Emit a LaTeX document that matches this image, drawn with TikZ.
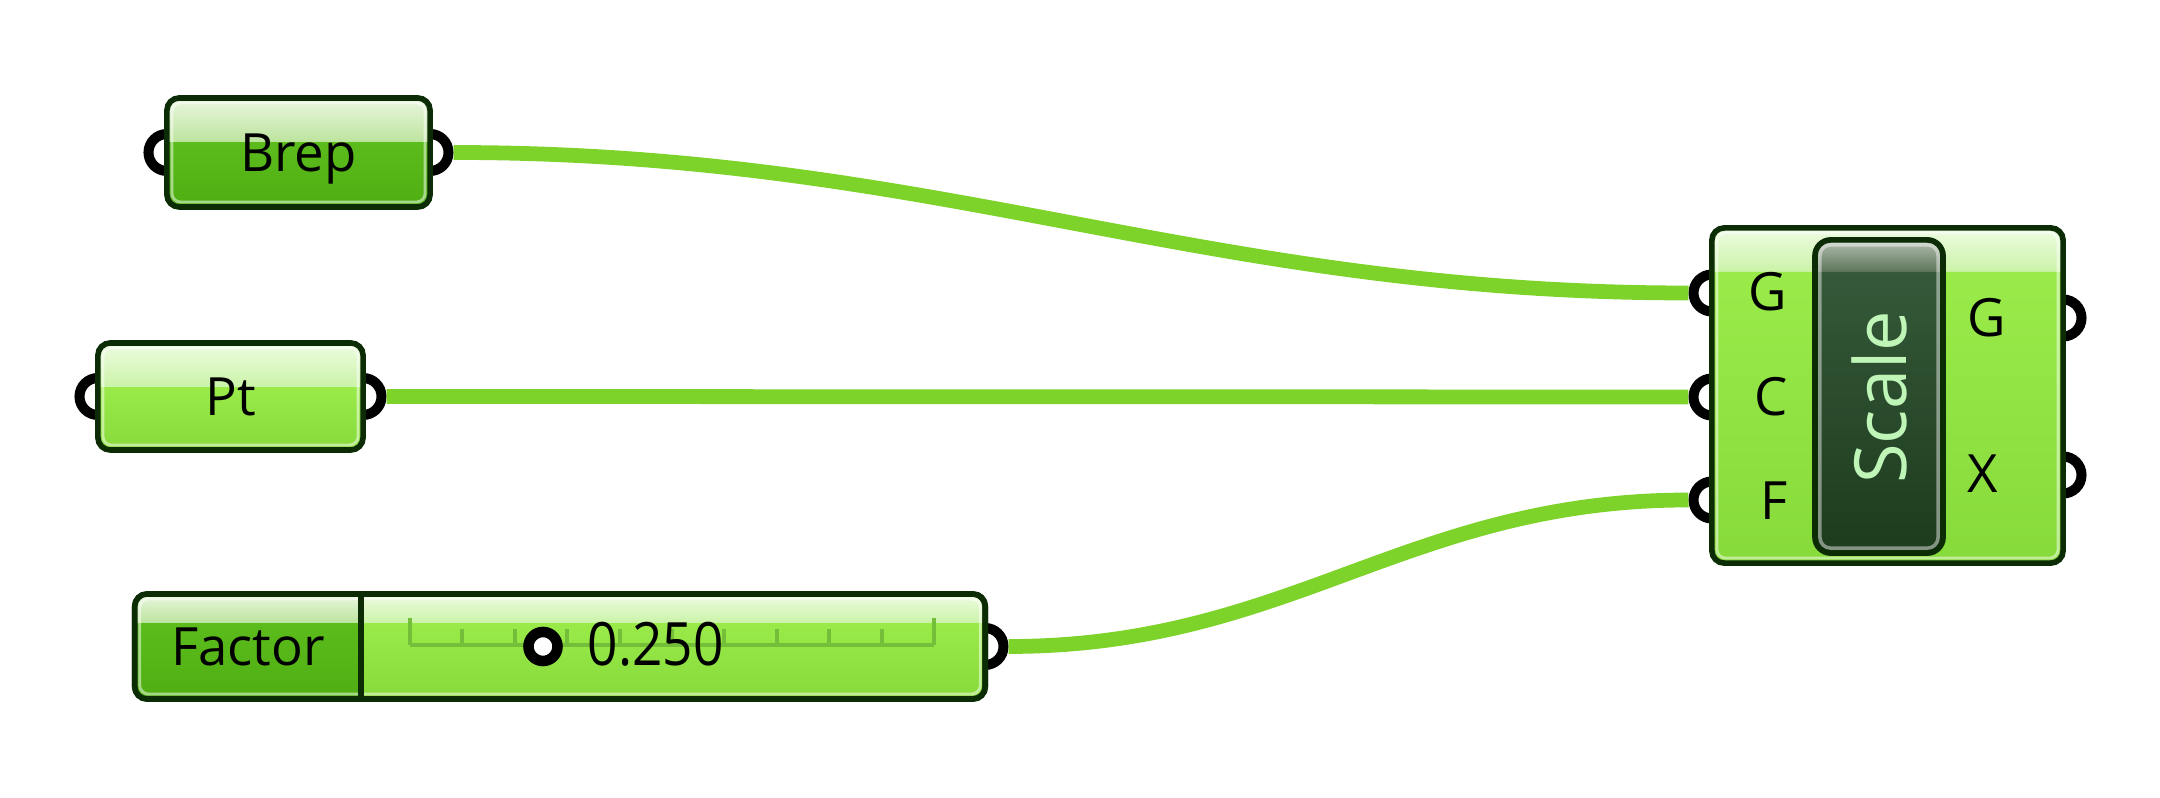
\documentclass[tikz,border=0pt]{standalone}
\usepackage{fontspec}
\setmainfont{Open Sans}

\definecolor{outl}{HTML}{0C2C06}
\definecolor{wirec}{HTML}{7DD32A}
\definecolor{tickc}{HTML}{74BE3A}
\definecolor{scaletxt}{HTML}{C0F5B8}
% dark green (Brep, Factor)
\definecolor{dkB}{HTML}{4FAE12}
\definecolor{dkT}{HTML}{5CBC1C}
\definecolor{lbB}{HTML}{BCE49E}
\definecolor{lbT}{HTML}{EBF7E0}
% light green (Pt, slider, Scale)
\definecolor{ltB}{HTML}{86DA3A}
\definecolor{ltT}{HTML}{9AEB4A}
\definecolor{lhB}{HTML}{CBF3A8}
\definecolor{lhT}{HTML}{EEFCE2}
% inner panel
\definecolor{pnB}{HTML}{1D3B1D}
\definecolor{pnT}{HTML}{35593A}
\definecolor{phB}{HTML}{5F765C}
\definecolor{phT}{HTML}{B3BFB0}

\pgfdeclareverticalshading{brepshade}{100bp}{color(0bp)=(dkB); color(25bp)=(dkB); color(55bp)=(dkT); color(55bp)=(lbB); color(75bp)=(lbT); color(100bp)=(lbT)}
\pgfdeclareverticalshading{factorshade}{100bp}{color(0bp)=(dkB); color(25bp)=(dkB); color(61.5bp)=(dkT); color(61.5bp)=(lbB); color(75bp)=(lbT); color(100bp)=(lbT)}
\pgfdeclareverticalshading{ptshade}{100bp}{color(0bp)=(ltB); color(25bp)=(ltB); color(54.5bp)=(ltT); color(54.5bp)=(lhB); color(75bp)=(lhT); color(100bp)=(lhT)}
\pgfdeclareverticalshading{slidershade}{100bp}{color(0bp)=(ltB); color(25bp)=(ltB); color(61.5bp)=(ltT); color(61.5bp)=(lhB); color(75bp)=(lhT); color(100bp)=(lhT)}
\pgfdeclareverticalshading{scaleshade}{100bp}{color(0bp)=(ltB); color(25bp)=(ltB); color(68.5bp)=(ltT); color(68.5bp)=(lhB); color(75bp)=(lhT); color(100bp)=(lhT)}
\pgfdeclareverticalshading{panelshade}{100bp}{color(0bp)=(pnB); color(25bp)=(pnB); color(70bp)=(pnT); color(70bp)=(phB); color(75bp)=(phT); color(100bp)=(phT)}

\begin{document}
\begin{tikzpicture}[x=0.01cm,y=-0.01cm,
  txt/.style={font=\fontsize{15}{18}\selectfont,text=black,inner sep=0pt,text height=0.38cm,text depth=0pt},
  comp/.style={txt,rectangle,draw=outl,line width=1.6pt,rounded corners=3.5pt,outer sep=0pt},
  grip/.style={circle,draw=black,fill=white,line width=2.85pt,minimum size=0.37cm,inner sep=0pt},
  wire/.style={draw=wirec,line width=4.2pt},
  hilite/.style={draw=white,draw opacity=0.5,line width=0.8pt,rounded corners=2.5pt},
  tick/.style={draw=tickc,line width=1.1pt}]
\useasboundingbox (0,0) rectangle (2160,798);

% grips
\node[grip] (brepin) at (167,152.5) {};
\node[grip] (brepout) at (430,152.5) {};
\node[grip] (ptin) at (98,396.5) {};
\node[grip] (ptout) at (363,396.5) {};
\node[grip] (factorout) at (985,646.5) {};
\node[grip] (gin) at (1712,293) {};
\node[grip] (cin) at (1712,397) {};
\node[grip] (fin) at (1712,500) {};
\node[grip] (gout) at (2063,318) {};
\node[grip] (xout) at (2063,475) {};

% wires
\draw[wire] (brepout) .. controls +(512,0) and +(-512,0) .. (gin);
\draw[wire] (ptout) -- (cin);
\draw[wire] (factorout) .. controls +(305,0) and +(-305,0) .. (fin);

% params
\node[comp,shading=brepshade,minimum width=2.63cm,minimum height=1.09cm] (brep) at (298.5,152.5) {Brep};
\node[comp,shading=ptshade,minimum width=2.65cm,minimum height=1.07cm] (pt) at (230.5,396.5) {Pt};

% slider
\node[comp,shading=slidershade,minimum width=8.5cm,minimum height=1.05cm] (factor) at (560,646.5) {};
\begin{scope}
\clip (120,580) rectangle (361,715);
\path[shading=factorshade,rounded corners=3.5pt] (factor.north west) rectangle (factor.south east);
\end{scope}
\foreach \b in {brep,pt,factor}
  \draw[hilite] ([shift={(5,5)}]\b.north west) rectangle ([shift={(-5,-5)}]\b.south east);
\draw[draw=outl,line width=1.6pt,rounded corners=3.5pt] (factor.north west) rectangle (factor.south east);
\draw[draw=outl,line width=1.6pt] (361,594) -- (361,699);
\node[txt] (factorname) at (248,646.5) {Factor};
\draw[tick] (410,645) -- (934,645);
\draw[tick] (410,618) -- (410,645);
\draw[tick] (934,618) -- (934,645);
\foreach \i in {1,...,9}
  \draw[tick] (410+52.4*\i,629) -- (410+52.4*\i,645);
\node[grip,minimum size=0.29cm,line width=3pt] (knob) at (543,646.5) {};
\node[txt,font=\fontsize{17}{20}\selectfont,text height=0.43cm,anchor=west] (value) at (587,643.5) {\scalebox{0.89}[1]{0.250}};

% scale component
\node[comp,shading=scaleshade,minimum width=3.51cm,minimum height=3.35cm] (scale) at (1887.5,395.5) {};
\draw[hilite] ([shift={(5,5)}]scale.north west) rectangle ([shift={(-5,-5)}]scale.south east);
\node[comp,shading=panelshade,rounded corners=4.5pt,minimum width=1.28cm,minimum height=3.13cm] (panel) at (1879,396.5) {};
\draw[hilite,draw opacity=0.45,line width=1pt,rounded corners=3pt] ([shift={(5,5)}]panel.north west) rectangle ([shift={(-5,-5)}]panel.south east);
\node[rotate=90,inner sep=0pt,text=scaletxt,font=\fontsize{20.5}{24}\selectfont] (scalename) at (1879,397.5) {Scale};
\node[txt,anchor=south east] (glbl) at (1788,311) {G};
\node[txt,anchor=south east] (clbl) at (1788,416) {C};
\node[txt,anchor=south east] (flbl) at (1788,520) {F};
\node[txt,anchor=south west] (golbl) at (1967,337) {G};
\node[txt,anchor=south west] (xlbl) at (1967,493) {X};
\end{tikzpicture}
\end{document}
